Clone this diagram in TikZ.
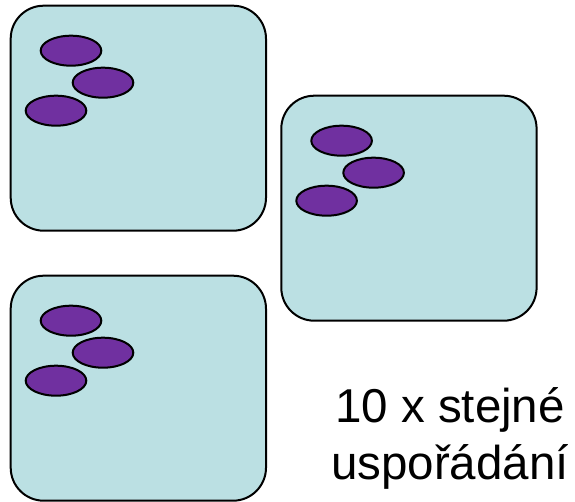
\documentclass[tikz,border=0pt]{standalone}
\usepackage{fontspec}
\setmainfont{Liberation Sans}
\usetikzlibrary{shapes.geometric}
\definecolor{wellfill}{HTML}{BBE0E3}
\definecolor{cellfill}{HTML}{7030A0}
\begin{document}
\begin{tikzpicture}[x=1pt,y=-1pt,
  well/.style={draw=black,line width=2pt,fill=wellfill,rounded corners=33pt},
  cell/.style={draw=black,line width=2pt,fill=cellfill,ellipse,minimum width=60.6pt,minimum height=30pt,inner sep=0pt},
  lbl/.style={font=\fontsize{47.5}{56.6}\selectfont,align=center,inner sep=0pt}]
\useasboundingbox (0,0) rectangle (575,502);
% boxes
\foreach \n/\bx/\by in {one/10.7/5.7, two/281.3/95.7, three/10.7/275.7}{
  \draw[well] (\bx,\by) rectangle ++(255.3,225);
  \node[cell] (\n a) at (\bx+60.3,\by+45) {};
  \node[cell] (\n b) at (\bx+92.3,\by+77) {};
  \node[cell] (\n c) at (\bx+45.3,\by+105) {};
}
\node[lbl,anchor=base] (label) at (450,479) {10 x stejné\\uspořádání};
\end{tikzpicture}
\end{document}
